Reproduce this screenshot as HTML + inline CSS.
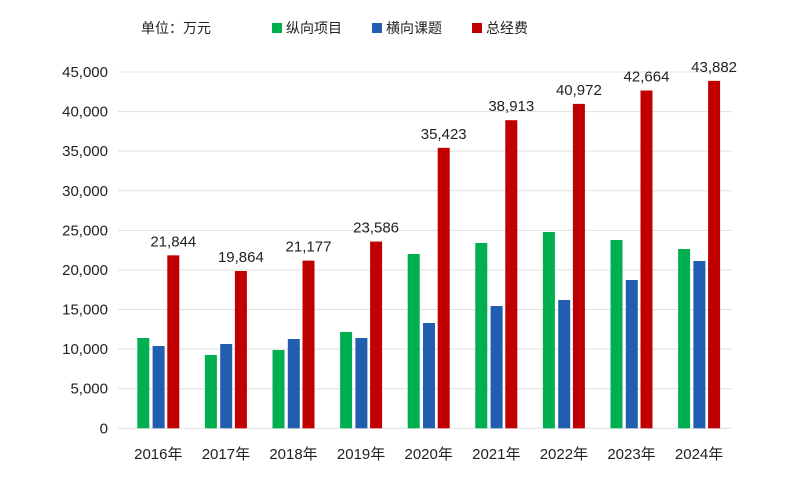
<!DOCTYPE html><html><head><meta charset="utf-8"><style>body{margin:0;background:#fff}</style></head><body>
<svg width="799" height="478" xmlns="http://www.w3.org/2000/svg" font-family="Liberation Sans, Noto Sans CJK SC, sans-serif">
<rect width="799" height="478" fill="#fff"/>
<g font-size="14" fill="#222">
<text x="141" y="33">单位：万元</text>
<rect x="272" y="23" width="10" height="10" fill="#00b050"/><text x="286" y="33">纵向项目</text>
<rect x="372" y="23" width="10" height="10" fill="#225eb0"/><text x="386" y="33">横向课题</text>
<rect x="472" y="23" width="10" height="10" fill="#c00000"/><text x="486" y="33">总经费</text>
</g>
<g id="grid" stroke="#e0e0e0" stroke-width="1"></g>
<g id="bars"></g>
<g id="txt" font-size="15" fill="#222"></g>
</svg>
<script>
var ns="http://www.w3.org/2000/svg";
function el(p,t,a,s){var e=document.createElementNS(ns,t);for(var k in a)e.setAttribute(k,a[k]);if(s!=null)e.textContent=s;document.getElementById(p).appendChild(e);}
var y0=428.3,k=(428.3-72)/45000;
for(var i=0;i<=9;i++){var y=y0-i*5000*k;el('grid','line',{x1:118,x2:732,y1:y,y2:y});
el('txt','text',{x:108,y:y+5,'text-anchor':'end'},(i*5000).toLocaleString('en-US'));}
var g=[338,355,350,332,254,243,232,240,249],b=[346,344,339,338,323,306,300,280,261],
r=[21844,19864,21177,23586,35423,38913,40972,42664,43882];
for(var i=0;i<9;i++){var x=137.3+67.6*i;
el('bars','rect',{x:x,y:g[i],width:12,height:y0-g[i],fill:'#00b050'});
el('bars','rect',{x:x+15.3,y:b[i],width:12,height:y0-b[i],fill:'#225eb0'});
var ry=y0-r[i]*k;el('bars','rect',{x:x+30,y:ry,width:12,height:y0-ry,fill:'#c00000'});
el('txt','text',{x:x+36,y:ry-9,'text-anchor':'middle'},r[i].toLocaleString('en-US'));
el('txt','text',{x:x+21,y:459,'text-anchor':'middle'},(2016+i)+'年');}
</script>
</body></html>
